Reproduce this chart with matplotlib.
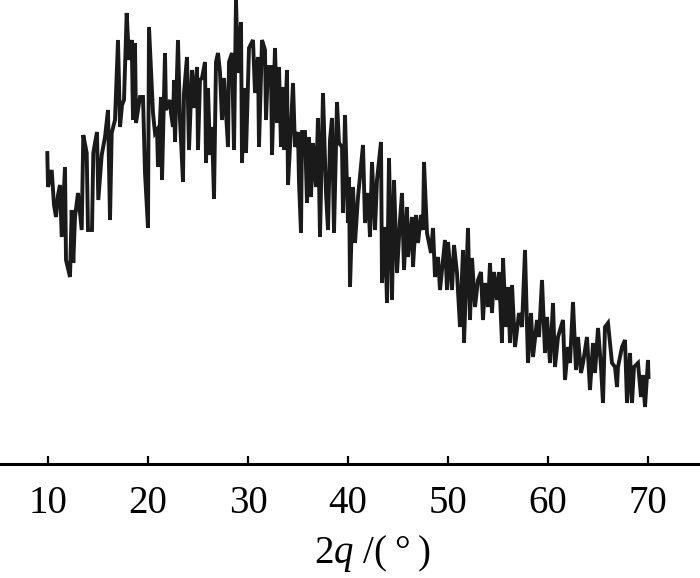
import matplotlib
matplotlib.use("Agg")
import matplotlib.pyplot as plt

plt.rcParams["font.family"] = ["Liberation Serif", "DejaVu Serif"]
plt.rcParams["mathtext.fontset"] = "custom"
plt.rcParams["mathtext.rm"] = "Liberation Serif"
plt.rcParams["mathtext.it"] = "Liberation Serif:italic"

# 2theta (deg) and intensity (a.u.)
two_theta = [
    9.93, 10.00, 10.37, 10.60, 10.80, 11.00, 11.20, 11.37, 11.70, 11.80,
    12.20, 12.37, 12.53, 12.70, 13.00, 13.37, 13.53, 13.87, 14.00, 14.40,
    14.53, 14.70, 14.90, 15.03, 15.37, 15.70, 16.00, 16.20, 16.37, 16.70,
    17.00, 17.20, 17.40, 17.60, 17.87, 18.10, 18.37, 18.50, 18.70, 18.80,
    19.20, 19.50, 19.70, 20.00, 20.10, 20.50, 20.70, 20.90, 21.00, 21.30,
    21.40, 21.70, 21.80, 22.20, 22.30, 22.50, 22.60, 22.70, 23.00, 23.20,
    23.50, 23.60, 23.90, 24.10, 24.40, 24.60, 24.90, 25.00, 25.20, 25.40,
    25.70, 25.80, 26.00, 26.20, 26.40, 26.60, 26.80, 27.00, 27.20, 27.40,
    27.60, 28.00, 28.10, 28.40, 28.60, 28.80, 29.00, 29.30, 29.40, 29.60,
    29.80, 30.10, 30.50, 30.70, 31.00, 31.10, 31.40, 31.70, 31.80, 32.00,
    32.30, 32.40, 32.70, 32.90, 33.10, 33.30, 33.50, 33.60, 33.90, 34.00,
    34.20, 34.50, 34.70, 35.00, 35.10, 35.30, 35.40, 35.70, 35.90, 36.10,
    36.30, 36.50, 36.80, 37.00, 37.20, 37.50, 37.80, 38.00, 38.20, 38.40,
    38.60, 38.90, 39.10, 39.40, 39.50, 39.70, 40.00, 40.10, 40.20, 40.50,
    40.70, 41.00, 41.50, 41.70, 42.00, 42.20, 42.40, 42.70, 42.90, 43.30,
    43.40, 43.70, 43.90, 44.10, 44.40, 44.60, 44.90, 45.20, 45.40, 45.60,
    45.90, 46.00, 46.40, 46.50, 46.80, 47.00, 47.30, 47.50, 47.60, 47.90,
    48.30, 48.50, 48.70, 49.00, 49.20, 49.70, 49.90, 50.00, 50.40, 50.60,
    50.90, 51.20, 51.50, 51.60, 52.00, 52.20, 52.40, 52.70, 53.00, 53.30,
    53.50, 53.70, 54.00, 54.20, 54.40, 54.60, 54.90, 55.10, 55.40, 55.50,
    55.80, 56.00, 56.20, 56.40, 56.70, 57.10, 57.40, 57.70, 58.00, 58.30,
    58.50, 58.90, 59.10, 59.40, 59.70, 59.90, 60.20, 60.50, 60.70, 61.00,
    61.50, 61.70, 62.00, 62.20, 62.50, 62.80, 63.00, 63.30, 63.50, 63.90,
    64.20, 64.50, 64.70, 65.00, 65.30, 65.50, 65.70, 66.00, 66.40, 66.70,
    66.90, 67.00, 67.40, 67.70, 67.90, 68.20, 68.40, 68.60, 69.00, 69.30,
    69.50, 69.70, 70.00, 70.05,
]
intensity = [
    311, 277, 294, 259, 247, 269, 279, 227, 297, 204,
    187, 254, 201, 247, 271, 234, 329, 311, 234, 234,
    311, 321, 332, 264, 309, 327, 354, 244, 331, 344,
    424, 337, 359, 364, 451, 404, 424, 344, 421, 341,
    367, 367, 291, 236, 437, 351, 331, 334, 297, 367,
    284, 411, 354, 364, 351, 337, 384, 322, 424, 344,
    282, 371, 407, 314, 394, 356, 397, 314, 384, 386,
    402, 301, 376, 309, 337, 265, 402, 411, 392, 344,
    386, 317, 402, 411, 314, 464, 391, 442, 301, 376,
    311, 416, 424, 371, 407, 317, 424, 414, 344, 397,
    397, 309, 416, 341, 397, 317, 377, 314, 394, 279,
    317, 381, 317, 332, 282, 231, 332, 332, 261, 327,
    267, 321, 277, 346, 227, 371, 271, 234, 324, 346,
    231, 362, 321, 317, 251, 349, 241, 287, 177, 277,
    221, 267, 319, 241, 271, 227, 302, 234, 284, 322,
    181, 237, 161, 306, 164, 284, 191, 244, 271, 194,
    257, 207, 247, 197, 249, 221, 249, 234, 302, 231,
    211, 236, 187, 207, 174, 224, 174, 222, 174, 219,
    191, 137, 214, 121, 236, 144, 206, 157, 184, 192,
    144, 181, 157, 201, 151, 192, 164, 192, 121, 206,
    137, 177, 121, 179, 117, 151, 137, 214, 101, 151,
    107, 144, 127, 184, 111, 147, 101, 161, 97, 127,
    144, 84, 117, 101, 162, 94, 127, 91, 101, 127,
    74, 121, 91, 136, 97, 61, 137, 141, 101, 97,
    77, 97, 117, 124, 61, 111, 61, 97, 101, 67,
    89, 57, 104, 87,
]
x_ticks = [10, 20, 30, 40, 50, 60, 70]

fig = plt.figure(figsize=(7.0, 5.78), dpi=100)
ax = fig.add_axes([0.0, 114 / 578, 1.0, 464 / 578])

ax.plot(two_theta, intensity, color="#1a1a1a", lw=2.8, solid_joinstyle="miter")

ax.set_xlim(5.2, 75.2)
ax.set_ylim(0, 464)
ax.set_xticks(x_ticks)
ax.set_yticks([])
for side in ["top", "left", "right"]:
    ax.spines[side].set_visible(False)
ax.spines["bottom"].set_linewidth(2.2)
ax.tick_params(axis="x", direction="in", length=6, width=1.6, pad=15, labelsize=28)

fig.text(372 / 700, 1 - 553 / 578, "2$\\it{q}$ /(\u2009°\u2009)", ha="center", va="center", fontsize=28)

fig.savefig("out.png", dpi=100)
